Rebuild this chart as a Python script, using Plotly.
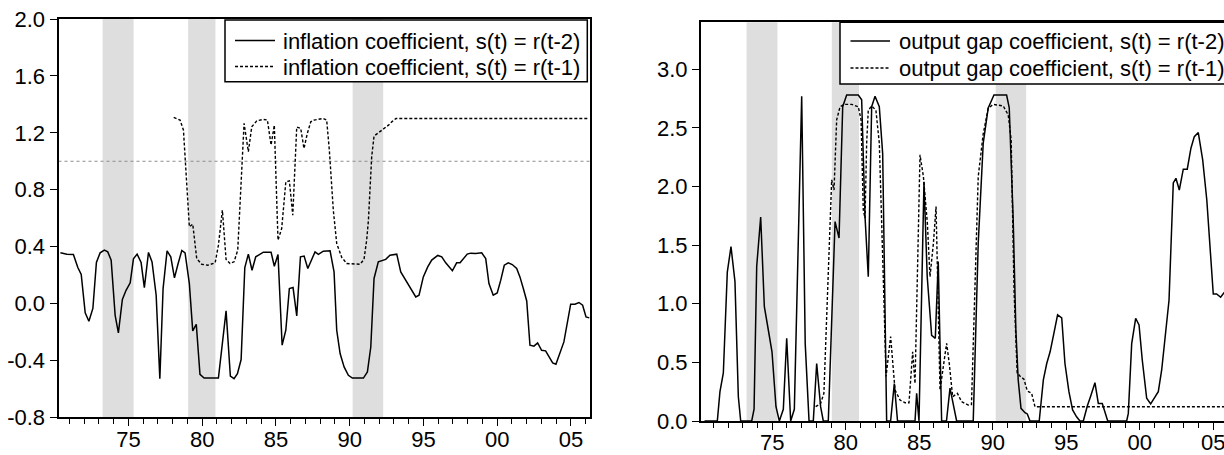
import plotly.graph_objects as go

# ---------------- data ----------------
infl_t2_x = [1970.39, 1970.83, 1971.27, 1971.57, 1971.80, 1972.07, 1972.32, 1972.59, 1972.83, 1973.08,
             1973.37, 1973.60, 1973.83, 1974.10, 1974.32, 1974.59, 1974.84, 1975.12, 1975.34, 1975.59,
             1975.86, 1976.08, 1976.36, 1976.60, 1976.88, 1977.13, 1977.35, 1977.62, 1977.87, 1978.12,
             1978.37, 1978.62, 1978.84, 1979.13, 1979.36, 1979.60, 1979.85, 1980.13, 1981.10, 1981.62,
             1981.91, 1982.16, 1982.39, 1982.64, 1982.89, 1983.13, 1983.38, 1983.63, 1984.15, 1984.67,
             1984.89, 1985.14, 1985.42, 1985.67, 1985.91, 1986.16, 1986.41, 1986.66, 1986.91, 1987.16,
             1987.65, 1987.88, 1988.21, 1988.67, 1988.94, 1989.12, 1989.35, 1989.62, 1989.91, 1990.18,
             1990.93, 1991.20, 1991.43, 1991.65, 1991.94, 1992.21, 1992.44, 1992.73, 1993.19, 1993.46,
             1993.75, 1994.02, 1994.48, 1994.70, 1994.99, 1995.29, 1995.56, 1995.97, 1996.24, 1996.51,
             1996.96, 1997.25, 1997.48, 1997.97, 1998.20, 1998.54, 1998.95, 1999.22, 1999.44, 1999.73,
             2000.00, 2000.24, 2000.48, 2000.75, 2001.02, 2001.32, 2001.54, 2001.77, 2002.00, 2002.22,
             2002.49, 2002.74, 2003.01, 2003.28, 2003.53, 2003.76, 2003.98, 2004.25, 2004.52, 2004.98,
             2005.27, 2005.54, 2005.79, 2006.02, 2006.24]
infl_t2_y = [0.356, 0.347, 0.345, 0.253, 0.204, -0.066, -0.125, -0.035, 0.288, 0.356,
             0.375, 0.363, 0.304, -0.083, -0.207, 0.028, 0.093, 0.145, 0.314, 0.347,
             0.288, 0.112, 0.359, 0.292, 0.058, -0.528, 0.105, 0.370, 0.328, 0.180,
             0.281, 0.373, 0.356, 0.140, -0.193, -0.146, -0.498, -0.524, -0.524, -0.052,
             -0.510, -0.528, -0.493, -0.394, 0.253, 0.347, 0.234, 0.328, 0.361, 0.361,
             0.262, 0.345, -0.293, -0.188, 0.105, 0.112, -0.087, 0.328, 0.333, 0.246,
             0.363, 0.345, 0.368, 0.370, 0.222, -0.188, -0.352, -0.446, -0.505, -0.524,
             -0.524, -0.481, -0.306, 0.176, 0.293, 0.305, 0.310, 0.340, 0.347, 0.222,
             0.169, 0.129, 0.046, 0.058, 0.187, 0.257, 0.305, 0.338, 0.328, 0.286,
             0.230, 0.286, 0.286, 0.347, 0.354, 0.351, 0.356, 0.316, 0.140, 0.058,
             0.074, 0.164, 0.269, 0.286, 0.274, 0.246, 0.187, 0.105, 0.018, -0.293,
             -0.300, -0.277, -0.329, -0.333, -0.376, -0.418, -0.427, -0.352, -0.270, -0.005,
             -0.005, 0.007, -0.012, -0.094, -0.101]

infl_t1_x = [1978.07, 1978.50, 1978.73, 1978.96, 1979.13, 1979.36, 1979.63, 1979.97, 1980.38, 1980.88,
             1981.10, 1981.37, 1981.62, 1981.89, 1982.16, 1982.41, 1982.84, 1983.13, 1983.36, 1983.70,
             1984.15, 1984.42, 1984.67, 1984.89, 1985.14, 1985.39, 1985.67, 1985.91, 1986.14, 1986.41,
             1986.68, 1986.90, 1987.13, 1987.36, 1987.58, 1988.21, 1988.44, 1988.62, 1988.89, 1989.12,
             1989.46, 1989.80, 1990.25, 1990.70, 1990.97, 1991.15, 1991.27, 1991.49, 1991.65, 1992.06,
             1992.40, 1992.63, 1992.85, 1993.14, 2006.24]
infl_t1_y = [1.308, 1.290, 1.219, 0.820, 0.540, 0.558, 0.316, 0.276, 0.269, 0.286,
             0.410, 0.656, 0.310, 0.281, 0.293, 0.375, 1.266, 1.067, 1.242, 1.284,
             1.294, 1.290, 1.114, 1.254, 0.445, 0.527, 0.855, 0.862, 0.621, 1.240,
             1.231, 1.090, 1.196, 1.277, 1.289, 1.301, 1.290, 1.078, 0.656, 0.422,
             0.324, 0.281, 0.276, 0.276, 0.310, 0.445, 0.586, 1.031, 1.177, 1.207,
             1.231, 1.254, 1.277, 1.301, 1.301]

gap_t2_x = [1970.39, 1971.26, 1971.44, 1971.67, 1971.94, 1972.19, 1972.46, 1972.69, 1972.85, 1973.60,
            1973.76, 1973.94, 1974.21, 1974.46, 1974.73, 1974.98, 1975.25, 1975.48, 1975.75, 1975.98,
            1976.25, 1976.50, 1977.00, 1977.24, 1977.50, 1977.79, 1978.02, 1978.29, 1978.47, 1978.81,
            1979.27, 1979.54, 1979.79, 1980.06, 1980.85, 1981.08, 1981.31, 1981.53, 1981.76, 1981.99,
            1982.28, 1982.51, 1982.78, 1983.05, 1983.30, 1983.52, 1984.71, 1984.82, 1984.98, 1985.32,
            1985.54, 1985.84, 1986.09, 1986.29, 1986.52, 1986.85, 1987.09, 1987.31, 1987.54, 1988.67,
            1989.01, 1989.35, 1989.69, 1990.08, 1990.94, 1991.12, 1991.39, 1991.57, 1991.73, 1991.92,
            1992.19, 1992.35, 1992.53, 1993.16, 1993.44, 1993.67, 1993.90, 1994.16, 1994.41, 1994.69,
            1994.91, 1995.18, 1995.43, 1995.70, 1995.93, 1996.16, 1996.43, 1996.68, 1996.95, 1997.18,
            1997.45, 1997.82, 1999.11, 1999.22, 1999.45, 1999.72, 1999.95, 2000.17, 2000.47, 2000.74,
            2000.97, 2001.26, 2001.49, 2001.71, 2001.99, 2002.28, 2002.46, 2002.69, 2002.96, 2003.23,
            2003.48, 2003.71, 2003.98, 2004.28, 2004.56, 2005.00, 2005.23, 2005.50, 2005.73, 2006.00]
gap_t2_y = [0.0, 0.0, 0.25, 0.41, 1.27, 1.487, 1.19, 0.207, 0.0, 0.0,
            0.10, 1.32, 1.74, 0.975, 0.776, 0.59, 0.122, 0.0, 0.10, 0.705,
            0.0, 0.10, 2.77, 0.66, 0.0, 0.0, 0.49, 0.12, 0.0, 0.0,
            1.70, 1.56, 2.68, 2.78, 2.78, 2.74, 1.74, 1.23, 2.68, 2.77,
            2.68, 2.28, 0.0, 0.0, 0.32, 0.0, 0.0, 0.236, 0.0, 2.04,
            1.23, 0.73, 0.705, 1.36, 0.0, 0.0, 0.28, 0.15, 0.0, 0.0,
            1.516, 2.37, 2.67, 2.78, 2.78, 2.67, 1.715, 0.776, 0.35, 0.108,
            0.071, 0.06, 0.0, 0.0, 0.35, 0.49, 0.59, 0.75, 0.905, 0.88,
            0.49, 0.25, 0.094, 0.036, 0.0, 0.0, 0.128, 0.22, 0.327, 0.15,
            0.15, 0.0, 0.0, 0.065, 0.66, 0.876, 0.82, 0.52, 0.194, 0.145,
            0.194, 0.25, 0.435, 0.69, 1.03, 2.03, 2.07, 1.97, 2.147, 2.147,
            2.326, 2.425, 2.46, 2.226, 1.885, 1.083, 1.083, 1.055, 1.094, 1.12]

gap_t1_x = [1977.95, 1978.29, 1978.51, 1978.93, 1979.04, 1979.20, 1979.38, 1979.61, 1979.88, 1980.40,
            1980.85, 1981.04, 1981.19, 1981.31, 1981.42, 1981.53, 1981.76, 1982.05, 1982.28, 1982.55,
            1982.74, 1983.05, 1983.35, 1983.69, 1984.03, 1984.30, 1984.55, 1984.71, 1985.05, 1985.28,
            1985.55, 1985.73, 1985.96, 1986.14, 1986.29, 1986.41, 1986.86, 1987.04, 1987.27, 1987.59,
            1987.88, 1988.33, 1988.55, 1988.78, 1989.01, 1989.35, 1989.69, 1990.03, 1990.71, 1991.05,
            1991.25, 1991.45, 1991.66, 1991.89, 1992.12, 1992.35, 1992.64, 1992.87, 2006.24]
gap_t1_y = [0.122, 0.150, 0.236, 1.80, 2.056, 1.97, 2.568, 2.68, 2.70, 2.70,
            2.68, 2.568, 1.80, 1.73, 2.37, 2.65, 2.687, 2.65, 2.37, 1.23,
            0.38, 0.72, 0.264, 0.179, 0.156, 0.156, 0.59, 0.32, 2.27, 2.084,
            1.686, 1.23, 1.516, 1.828, 0.80, 0.264, 0.663, 0.49, 0.207, 0.236,
            0.165, 0.136, 0.14, 1.23, 2.084, 2.45, 2.667, 2.70, 2.687, 2.61,
            2.40, 1.10, 0.41, 0.378, 0.356, 0.256, 0.236, 0.122, 0.122]

rec_start = [1973.25, 1979.05, 1990.20]
rec_end = [1975.35, 1980.90, 1992.27]

major_ticks = [1975, 1980, 1985, 1990, 1995, 2000, 2005]
major_labels = ["75", "80", "85", "90", "95", "00", "05"]
left_yticks = [-0.8, -0.4, 0.0, 0.4, 0.8, 1.2, 1.6, 2.0]
left_ylabels = ["-0.8", "-0.4", "0.0", "0.4", "0.8", "1.2", "1.6", "2.0"]
right_yticks = [0.0, 0.5, 1.0, 1.5, 2.0, 2.5, 3.0]
right_ylabels = ["0.0", "0.5", "1.0", "1.5", "2.0", "2.5", "3.0"]

names_left = ["inflation coefficient, s(t) = r(t-2)", "inflation coefficient, s(t) = r(t-1)"]
names_right = ["output gap coefficient, s(t) = r(t-2)", "output gap coefficient, s(t) = r(t-1)"]

# ---------------- figure ----------------
W, H = 1224, 455


def px_x(X):
    return X / W


def px_y(Y):
    return 1 - Y / H


FONT = "Liberation Sans, Arial, Helvetica, sans-serif"
FS = 22
DASH = "3px,2px"

fig = go.Figure()
fig.add_trace(go.Scatter(x=infl_t2_x, y=infl_t2_y, mode="lines", name=names_left[0],
                         line=dict(color="black", width=1.5), xaxis="x", yaxis="y"))
fig.add_trace(go.Scatter(x=infl_t1_x, y=infl_t1_y, mode="lines", name=names_left[1],
                         line=dict(color="black", width=1.4, dash=DASH), xaxis="x", yaxis="y"))
fig.add_trace(go.Scatter(x=gap_t2_x, y=gap_t2_y, mode="lines", name=names_right[0],
                         line=dict(color="black", width=1.5), xaxis="x2", yaxis="y2"))
fig.add_trace(go.Scatter(x=gap_t1_x, y=gap_t1_y, mode="lines", name=names_right[1],
                         line=dict(color="black", width=1.4, dash=DASH), xaxis="x2", yaxis="y2"))

shapes = []
for xr, yr in (("x", "y"), ("x2", "y2")):
    for s, e in zip(rec_start, rec_end):
        shapes.append(dict(type="rect", xref=xr, yref=yr + " domain", x0=s, x1=e, y0=0, y1=1,
                           fillcolor="#dedede", line=dict(width=0), layer="below"))
shapes.append(dict(type="line", xref="x domain", yref="y", x0=0, x1=1, y0=1.0, y1=1.0,
                   line=dict(color="#8c8c8c", width=1, dash="dot"), layer="below"))

# legend boxes (drawn as shapes + text so that the row spacing matches)
annotations = []
legend_specs = [
    # box left, box right, box top, box bottom, sample x0, sample x1, text x, row ys, names
    (225, 587.3, 20, 81.7, 235, 275, 281, (40.5, 66.5), names_left),
    (840, 1240, 22.3, 84, 850.5, 890, 897, (41, 68), names_right),
]
for bl, br, bt, bb, sx0, sx1, tx, rows, names in legend_specs:
    shapes.append(dict(type="rect", xref="paper", yref="paper",
                       x0=px_x(bl), x1=px_x(br), y0=px_y(bb), y1=px_y(bt),
                       fillcolor="white", line=dict(color="black", width=1.5), layer="above"))
    for i, (ry, nm) in enumerate(zip(rows, names)):
        shapes.append(dict(type="line", xref="paper", yref="paper",
                           x0=px_x(sx0), x1=px_x(sx1), y0=px_y(ry), y1=px_y(ry),
                           line=dict(color="black", width=1.5 if i == 0 else 1.4,
                                     dash="solid" if i == 0 else DASH), layer="above"))
        annotations.append(dict(xref="paper", yref="paper", x=px_x(tx), y=px_y(ry + 0.5),
                                xanchor="left", yanchor="middle", text=nm, showarrow=False,
                                font=dict(family=FONT, size=FS, color="black")))

axis_common = dict(showline=True, linecolor="black", linewidth=2, showgrid=False, zeroline=False,
                   ticks="outside", ticklen=7, tickwidth=1, tickcolor="black",
                   ticklabeloverflow="allow",
                   tickfont=dict(family=FONT, size=FS, color="black"))

xcommon = dict(axis_common, tickmode="array", tickvals=major_ticks, ticktext=major_labels,
               minor=dict(ticks="outside", ticklen=5, tickwidth=1, tickcolor="black",
                          tickmode="linear", tick0=1970, dtick=1, showgrid=False),
               ticklabelstandoff=-6, mirror=True)

fig.update_layout(
    width=W, height=H,
    margin=dict(l=0, r=0, t=0, b=0, autoexpand=False),
    paper_bgcolor="white", plot_bgcolor="white",
    font=dict(family=FONT, size=FS, color="black"),
    shapes=shapes, annotations=annotations,
    showlegend=False,
    xaxis=dict(xcommon, domain=[px_x(58.5), px_x(590)], range=[1970.26, 2006.29], anchor="y"),
    yaxis=dict(axis_common, domain=[px_y(417.3), px_y(19)], range=[-0.8, 2.0],
               tickmode="array", tickvals=left_yticks, ticktext=left_ylabels, mirror=True, anchor="x"),
    xaxis2=dict(xcommon, domain=[px_x(701), 1.0], range=[1970.15, 2005.73], anchor="y2"),
    yaxis2=dict(axis_common, domain=[px_y(421), px_y(22.3)], range=[0, 3.4],
                tickmode="array", tickvals=right_yticks, ticktext=right_ylabels,
                mirror=False, anchor="x2"),
)

# the page body normally has an 8px margin; remove it so the figure fills the window
fig.write_html("out.html", config={"displayModeBar": False},
               post_script="document.body.style.margin='0';document.body.style.overflow='hidden';")
